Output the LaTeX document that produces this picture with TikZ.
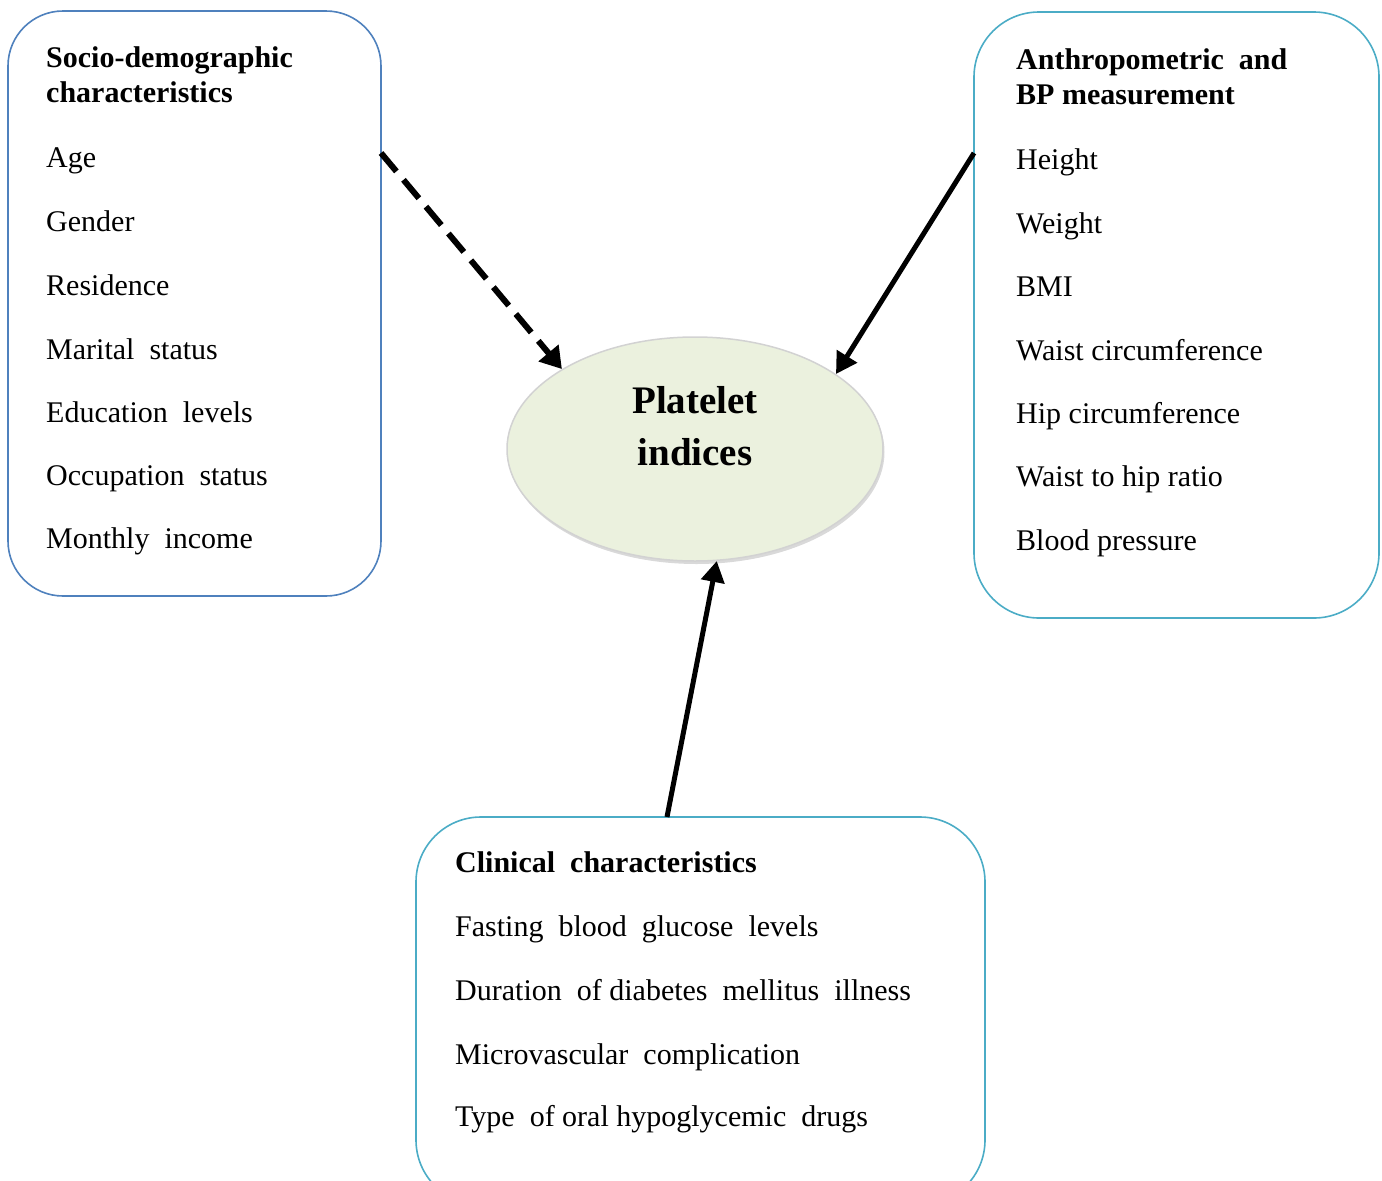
\documentclass[tikz,border=0pt]{standalone}
\usepackage{fontspec}
\setmainfont{Liberation Serif}
\usepackage{tikz}
\usetikzlibrary{positioning, shapes.geometric, shadows}
\usetikzlibrary{arrows.meta}

\definecolor{boxblue}{HTML}{4F81BD}
\definecolor{boxteal}{HTML}{4BACC6}
\definecolor{ellfill}{HTML}{EBF1DE}

\begin{document}
\begin{tikzpicture}[x=1pt, y=-1pt,
    every node/.style={font=\fontsize{30}{34}\selectfont},
    factorbox/.style={draw, rectangle, line width=1.6pt, inner sep=0pt},
    head/.style={anchor=base west, inner sep=0pt, font=\fontsize{30}{34}\selectfont\bfseries},
    item/.style={anchor=base west, inner sep=0pt},
    outcome/.style={ellipse, draw=gray!35, line width=1.5pt, fill=ellfill, inner sep=0pt,
      minimum width=376pt, minimum height=224pt,
      drop shadow={opacity=0.3, shadow xshift=1.5pt, shadow yshift=-3pt}},
    dasharrow/.style={line width=6pt, dash pattern=on 24pt off 11pt, -{Triangle[length=21pt, width=25pt]}},
    solidarrow/.style={line width=5pt, -{Triangle[length=21pt, width=23pt]}}]
      \clip (0,0) rectangle (1382,1181);
      % boxes
      \node[factorbox, draw=boxblue, rounded corners=55pt, minimum width=373pt, minimum height=585pt] (sdbox) at (194.5,303.5) {};
      \node[factorbox, draw=boxteal, rounded corners=65pt, minimum width=405pt, minimum height=606pt] (apbox) at (1176.5,315) {};
      \node[factorbox, draw=boxteal, rounded corners=65pt, minimum width=569pt, minimum height=388pt] (clbox) at (700.5,1011) {};
      % outcome
      \node[outcome] (pi) at (695,449) {};
      \node[head, anchor=base] (pione) at (695,413) {\fontsize{39}{42}\selectfont Platelet};
      \node[head, anchor=base] (pitwo) at (695,465) {\fontsize{39}{42}\selectfont indices};
      % socio-demographic
      \node[head] (sdone) at (46,67) {Socio-demographic};
      \node[head] (sdtwo) at (46,102) {characteristics};
      \node[item] (age) at (46,167) {Age};
      \node[item] (gender) at (46,231) {Gender};
      \node[item] (resid) at (46,295) {Residence};
      \node[item] (marital) at (46,359) {Marital\ \ status};
      \node[item] (educ) at (46,422) {Education\ \ levels};
      \node[item] (occup) at (46,485) {Occupation\ \ status};
      \node[item] (income) at (46,548) {Monthly\ \ income};
      % anthropometric
      \node[head] (apone) at (1016,69) {Anthropometric\ \ and};
      \node[head] (aptwo) at (1016,104) {BP measurement};
      \node[item] (height) at (1016,169) {Height};
      \node[item] (weight) at (1016,233) {Weight};
      \node[item] (bmi) at (1016,296) {BMI};
      \node[item] (waist) at (1016,360) {Waist circumference};
      \node[item] (hip) at (1016,423) {Hip circumference};
      \node[item] (whr) at (1016,486) {Waist to hip ratio};
      \node[item] (bp) at (1016,550) {Blood pressure};
      % clinical
      \node[head] (clone) at (455,872) {Clinical\ \ characteristics};
      \node[item] (fbg) at (455,936) {Fasting\ \ blood\ \ glucose\ \ levels};
      \node[item] (dur) at (455,1000) {Duration\ \ of diabetes\ \ mellitus\ \ illness};
      \node[item] (micro) at (455,1064) {Microvascular\ \ complication};
      \node[item] (drugs) at (455,1126) {Type\ \ of oral hypoglycemic\ \ drugs};
      % connectors
      \coordinate (sdout) at (381,153);
      \coordinate (apout) at (974,153);
      \coordinate (clout) at (667,817);
      \draw[dasharrow] (sdout) -- (pi.149);
      \draw[solidarrow] (apout) -- (pi.28);
      \draw[solidarrow] (clout) -- (pi.281);
    \end{tikzpicture}
\end{document}
